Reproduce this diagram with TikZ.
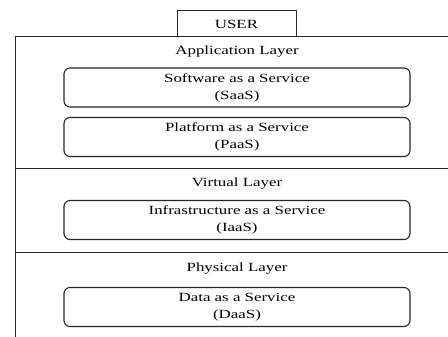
\documentclass[tikz,border=0pt]{standalone}
\usepackage{fontspec}
\setmainfont{Liberation Serif}[FakeStretch=1.35]
\begin{document}
\begin{tikzpicture}[x=1pt,y=1pt,
  frameline/.style={draw=black!85, line width=1pt},
  userbox/.style={draw=black!85, line width=1pt, minimum width=119pt, minimum height=26pt,
    inner sep=0pt, font=\fontsize{12.5}{15}\selectfont},
  service/.style={draw=black!85, line width=1.1pt, rounded corners=6pt,
    minimum width=346pt, minimum height=39pt, inner sep=0pt, align=center,
    font=\fontsize{12.5}{17}\selectfont},
  layerlabel/.style={inner sep=0pt, font=\fontsize{12.5}{15}\selectfont}]
\useasboundingbox (0,0) rectangle (448,337);
\fill[white] (0,0) rectangle (448,337);

% outer frame: open at the right and bottom
\coordinate (topL) at (15,300);
\coordinate (topR) at (448,300);
\coordinate (botL) at (15,0);
\coordinate (sepAL) at (15,168);
\coordinate (sepAR) at (448,168);
\coordinate (sepBL) at (15,84);
\coordinate (sepBR) at (448,84);
\draw[frameline] (botL) -- (topL) -- (topR);
\draw[frameline] (sepAL) -- (sepAR);
\draw[frameline] (sepBL) -- (sepBR);

% user on top of the stack
\node[userbox] (user) at (236.5,313) {USER};

% application layer
\node[layerlabel] (app) at (237,285) {Application Layer};
\node[service] (saas) at (237,249.5) {Software as a Service\\(SaaS)};
\node[service] (paas) at (237,200) {Platform as a Service\\(PaaS)};

% virtual layer
\node[layerlabel] (virt) at (237,153) {Virtual Layer};
\node[service] (iaas) at (237,117) {Infrastructure as a Service\\(IaaS)};

% physical layer
\node[layerlabel] (phys) at (237,68) {Physical Layer};
\node[service] (daas) at (237,30) {Data as a Service\\(DaaS)};
\end{tikzpicture}
\end{document}
